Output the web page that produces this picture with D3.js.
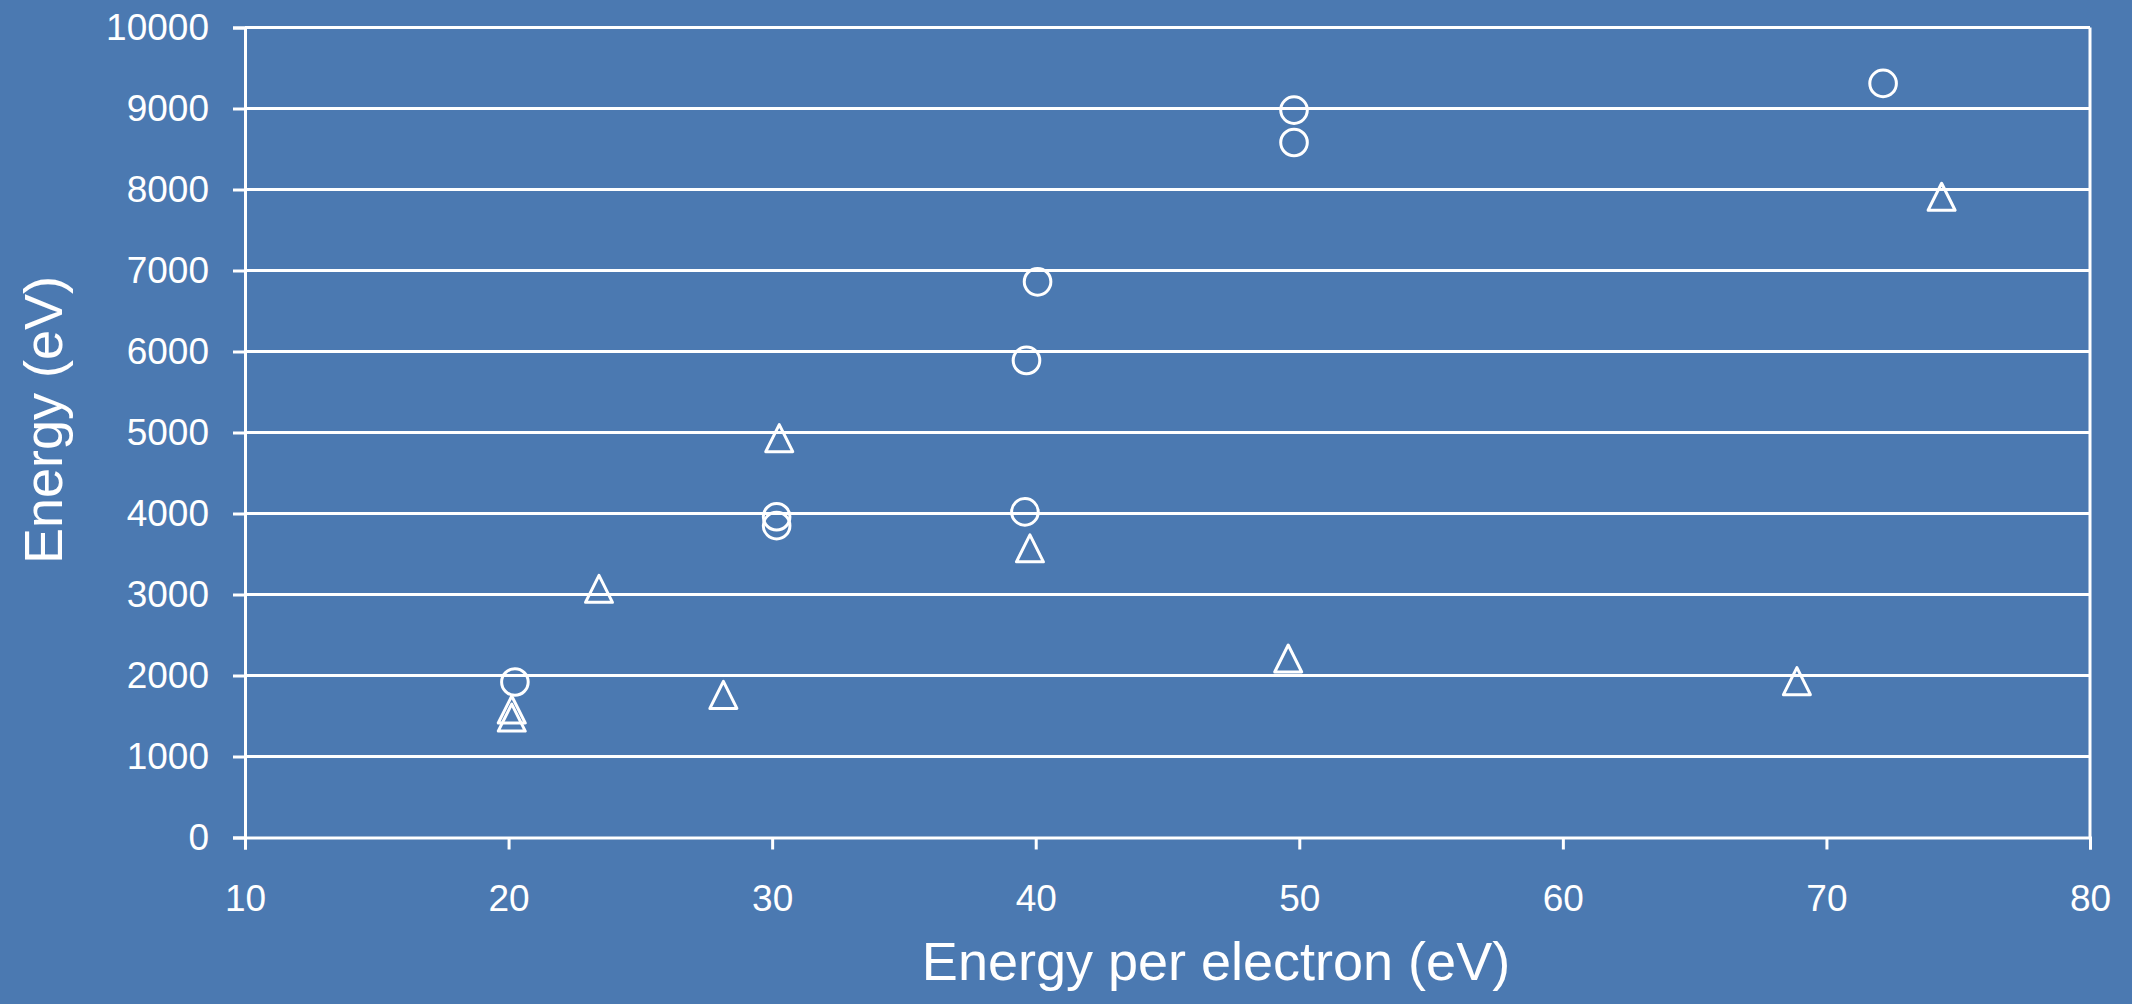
<!DOCTYPE html>
<html>
<head>
<meta charset="utf-8">
<script src="https://cdn.jsdelivr.net/npm/d3@7"></script>
<style>
  html, body { margin: 0; padding: 0; background: #4B79B1; }
  svg { display: block; }
  text { font-family: "Liberation Sans", Arial, sans-serif; fill: #ffffff; }
</style>
</head>
<body>
<svg id="chart" width="2132" height="1004"></svg>
<script>
// Series: circles
const circleX = [20.24, 30.17, 30.17, 39.59, 39.65, 40.07, 49.8, 49.8, 72.15];
const circleY = [1920, 3960, 3850, 4020, 5890, 6860, 8980, 8580, 9310];
// Series: triangles
const triX = [20.12, 20.12, 23.43, 28.15, 30.27, 39.78, 49.58, 68.88, 74.37];
const triY = [1580, 1480, 3070, 1760, 4930, 3570, 2210, 1930, 7910];

const xTicks = [10, 20, 30, 40, 50, 60, 70, 80];
const yTicks = [0, 1000, 2000, 3000, 4000, 5000, 6000, 7000, 8000, 9000, 10000];

const xTitle = "Energy per electron (eV)";
const yTitle = "Energy (eV)";

const W = 2132, H = 1004;
const m = { left: 245, right: 42, top: 27.5, bottom: 166.5 };

const svg = d3.select("#chart");
svg.append("rect").attr("width", W).attr("height", H).attr("fill", "#4B79B1");

const x = d3.scaleLinear().domain([10, 80]).range([m.left, W - m.right]);
const y = d3.scaleLinear().domain([0, 10000]).range([H - m.bottom, m.top]);

const white = "#ffffff";

// horizontal gridlines
svg.append("g").selectAll("line")
  .data(yTicks.filter(d => d > 0))
  .join("line")
  .attr("x1", x(10)).attr("x2", x(80))
  .attr("y1", d => y(d)).attr("y2", d => y(d))
  .attr("stroke", white).attr("stroke-width", 3);

// right border of plot area
svg.append("line")
  .attr("x1", x(80)).attr("x2", x(80))
  .attr("y1", y(10000)).attr("y2", y(0))
  .attr("stroke", white).attr("stroke-width", 3);

// y axis
const yAxis = svg.append("g")
  .attr("transform", `translate(${x(10)},0)`)
  .call(d3.axisLeft(y).tickValues(yTicks).tickFormat(d3.format("d")).tickSize(12).tickPadding(24));
yAxis.select(".domain").attr("stroke", white).attr("stroke-width", 3);
yAxis.selectAll(".tick line").attr("stroke", white).attr("stroke-width", 3);
yAxis.selectAll(".tick text").attr("fill", white).attr("font-size", 37)
  .attr("font-family", "Liberation Sans, Arial, sans-serif");

// x axis
const xAxis = svg.append("g")
  .attr("transform", `translate(0,${y(0)})`)
  .call(d3.axisBottom(x).tickValues(xTicks).tickFormat(d3.format("d")).tickSize(12).tickPadding(35));
xAxis.select(".domain").attr("stroke", white).attr("stroke-width", 3);
xAxis.selectAll(".tick line").attr("stroke", white).attr("stroke-width", 3);
xAxis.selectAll(".tick text").attr("fill", white).attr("font-size", 37)
  .attr("font-family", "Liberation Sans, Arial, sans-serif");

// circle markers
svg.append("g").selectAll("circle")
  .data(circleX.map((v, i) => [v, circleY[i]]))
  .join("circle")
  .attr("cx", d => x(d[0])).attr("cy", d => y(d[1]))
  .attr("r", 13.3)
  .attr("fill", "none").attr("stroke", white).attr("stroke-width", 3);

// triangle markers
const tri = d3.path();
const s = 13.5;
tri.moveTo(0, -s); tri.lineTo(s, s); tri.lineTo(-s, s); tri.closePath();
svg.append("g").selectAll("path")
  .data(triX.map((v, i) => [v, triY[i]]))
  .join("path")
  .attr("d", tri.toString())
  .attr("transform", d => `translate(${x(d[0])},${y(d[1])})`)
  .attr("fill", "none").attr("stroke", white).attr("stroke-width", 3)
  .attr("stroke-linejoin", "round");

// axis titles
svg.append("text")
  .attr("x", 1216).attr("y", 980)
  .attr("text-anchor", "middle").attr("font-size", 54)
  .text(xTitle);

svg.append("text")
  .attr("transform", "translate(62,420) rotate(-90)")
  .attr("text-anchor", "middle").attr("font-size", 54)
  .text(yTitle);
</script>
</body>
</html>
